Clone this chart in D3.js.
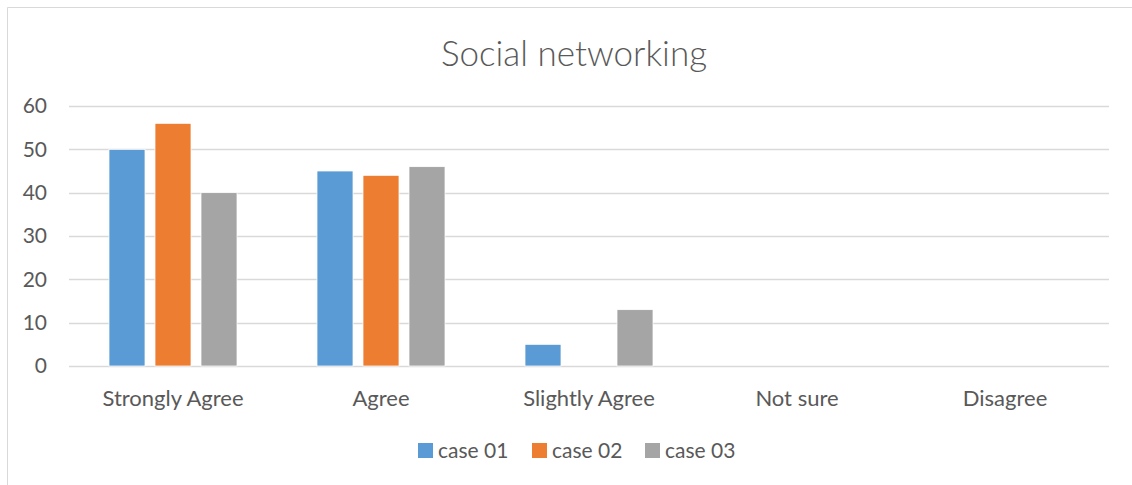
<!DOCTYPE html>
<html>
<head>
<meta charset="utf-8">
<script src="https://cdn.jsdelivr.net/npm/d3@7"></script>
<style>
  body { margin: 0; background: #fff; overflow: hidden; }
  text { font-family: Lato, "Open Sans", sans-serif; fill: #595959; }
</style>
</head>
<body>
<div id="chart"></div>
<script>
// Chart data
const categories = ['Strongly Agree', 'Agree', 'Slightly Agree', 'Not sure', 'Disagree'];
const seriesNames = ['case 01', 'case 02', 'case 03'];
const case01 = [50, 45, 5, 0, 0];
const case02 = [56, 44, 0, 0, 0];
const case03 = [40, 46, 13, 0, 0];
const yTickValues = [0, 10, 20, 30, 40, 50, 60];
const colors = ['#5B9BD5', '#ED7D31', '#A5A5A5'];

const seriesValues = [case01, case02, case03];
const data = categories.map((c, i) => ({
    category: c,
    values: seriesNames.map((s, j) => ({ series: s, value: seriesValues[j][i] }))
}));

const width = 1132;
const height = 485;
const margin = { top: 106, right: 23, bottom: 119, left: 69 };
const innerWidth = width - margin.left - margin.right;
const innerHeight = height - margin.top - margin.bottom;

const svg = d3.select('#chart')
    .append('svg')
    .attr('width', width)
    .attr('height', height)
    .style('display', 'block');

// Chart frame: only top and left edges fall inside the picture
svg.append('line')
    .attr('x1', 7.5).attr('x2', width)
    .attr('y1', 7.5).attr('y2', 7.5)
    .attr('stroke', '#d9d9d9');
svg.append('line')
    .attr('x1', 7.5).attr('x2', 7.5)
    .attr('y1', 7.5).attr('y2', height)
    .attr('stroke', '#d9d9d9');

const g = svg.append('g')
    .attr('transform', `translate(${margin.left},${margin.top})`);

// Scales
const x0 = d3.scaleBand()
    .domain(categories)
    .range([0, innerWidth])
    .padding(0);

const groupPad = (x0.bandwidth() - 128) / 2;
const x1 = d3.scaleBand()
    .domain(seriesNames)
    .range([groupPad, x0.bandwidth() - groupPad])
    .paddingInner(10 / 46);

const y = d3.scaleLinear()
    .domain([0, 60])
    .range([innerHeight, 0]);

// Grid lines
g.append('g')
    .selectAll('line')
    .data(yTickValues)
    .enter().append('line')
    .attr('x1', 0)
    .attr('x2', innerWidth)
    .attr('y1', d => Math.round(y(d)) + 0.5)
    .attr('y2', d => Math.round(y(d)) + 0.5)
    .attr('stroke', '#d9d9d9')
    .attr('stroke-width', 1.5);

// Y-axis labels
const yAxis = g.append('g')
    .call(d3.axisLeft(y).tickValues(yTickValues).tickSize(0).tickPadding(22));
yAxis.select('.domain').remove();
yAxis.selectAll('text')
    .attr('font-size', '21px')
    .attr('fill', '#595959')
    .style('font-family', 'Lato, sans-serif');

// Bars
const groups = g.selectAll('.group')
    .data(data)
    .enter().append('g')
    .attr('class', 'group')
    .attr('transform', d => `translate(${x0(d.category)},0)`);

groups.selectAll('rect')
    .data(d => d.values)
    .enter().append('rect')
    .attr('x', d => x1(d.series))
    .attr('y', d => y(d.value))
    .attr('width', x1.bandwidth())
    .attr('height', d => innerHeight - y(d.value))
    .attr('fill', (d, i) => colors[i])
    .attr('stroke', '#fff')
    .attr('stroke-width', d => d.value > 0 ? 0.75 : 0);

// X-axis labels
const xAxis = g.append('g')
    .attr('transform', `translate(0,${innerHeight})`)
    .call(d3.axisBottom(x0).tickSize(0).tickPadding(24));
xAxis.select('.domain').remove();
xAxis.selectAll('text')
    .attr('font-size', '22px')
    .attr('fill', '#595959')
    .style('font-family', 'Lato, sans-serif');

// Title
svg.append('text')
    .attr('x', 574)
    .attr('y', 66)
    .attr('text-anchor', 'middle')
    .attr('font-size', '35px')
    .attr('font-weight', 300)
    .text('Social networking');

// Legend
const legendX = [418, 532, 645];
const legend = svg.append('g');
seriesNames.forEach((s, i) => {
    legend.append('rect')
        .attr('x', legendX[i])
        .attr('y', 443)
        .attr('width', 15)
        .attr('height', 15)
        .attr('fill', colors[i]);
    legend.append('text')
        .attr('x', legendX[i] + 20)
        .attr('y', 458)
        .attr('font-size', '21px')
        .text(s);
});
</script>
</body>
</html>
